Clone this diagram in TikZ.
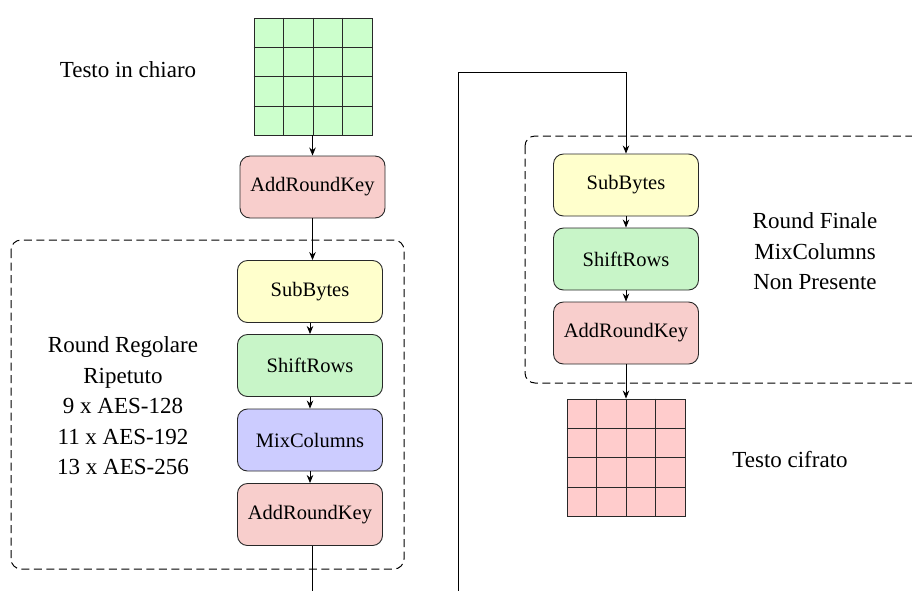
\documentclass[tikz,border=0pt]{standalone}
\usepackage{fontspec}
\setmainfont{Liberation Serif}
\usetikzlibrary{arrows.meta,calc}
\definecolor{gridgreen}{RGB}{204,255,204}
\definecolor{gridred}{RGB}{255,204,204}
\definecolor{arkfill}{RGB}{248,206,204}
\definecolor{sbfill}{RGB}{255,255,204}
\definecolor{srfill}{RGB}{200,245,200}
\definecolor{mcfill}{RGB}{204,204,255}
\definecolor{edge}{RGB}{40,40,40}
\tikzset{
  op/.style={draw=edge, line width=0.9pt, rounded corners=10pt, minimum width=145pt, minimum height=62pt, inner sep=0pt, font=\fontsize{20.5}{24}\selectfont},
  statebox/.style={draw=edge, line width=0.9pt, minimum width=118pt, minimum height=117pt, inner sep=0pt},
  arr/.style={line width=0.9pt, -{Stealth[length=8pt,width=6.5pt]}},
  roundbox/.style={draw=black, line width=1pt, dash pattern=on 8pt off 4.5pt, rounded corners=10pt},
  lbl/.style={align=center, font=\fontsize{23}{30.5}\selectfont},
}
\begin{document}
\begin{tikzpicture}[x=1pt,y=-1pt]
\useasboundingbox (0,0) rectangle (912,590);
\begin{scope}
\clip (0,0) rectangle (912,590);
% dashed round boxes
\draw[roundbox] (11,240) rectangle (404,569);
\draw[roundbox] (525,136) rectangle (940,383);

% plaintext grid
\node[statebox, fill=gridgreen] (pt) at (313,76.5) {};
\foreach \i in {1,2,3} {
  \draw[edge, line width=0.9pt] ($(pt.north west)!\i/4!(pt.north east)$) -- ($(pt.south west)!\i/4!(pt.south east)$);
  \draw[edge, line width=0.9pt] ($(pt.north west)!\i/4!(pt.south west)$) -- ($(pt.north east)!\i/4!(pt.south east)$);
}
\node[lbl] (ptl) at (128,70) {Testo in chiaro};

% initial round
\node[op, fill=arkfill] (ark1) at (312.5,187) {AddRoundKey};

% regular round
\node[op, fill=sbfill] (sb1) at (310,291.5) {SubBytes};
\node[op, fill=srfill] (sr1) at (310,365.5) {ShiftRows};
\node[op, fill=mcfill] (mc1) at (310,440) {MixColumns};
\node[op, fill=arkfill] (ark2) at (310,514.5) {AddRoundKey};
\node[lbl] (rr) at (123,406) {Round Regolare\\Ripetuto\\9 x AES-128\\11 x AES-192\\13 x AES-256};

% final round
\node[op, fill=sbfill] (sb2) at (626,185) {SubBytes};
\node[op, fill=srfill] (sr2) at (626,259) {ShiftRows};
\node[op, fill=arkfill] (ark3) at (626,333) {AddRoundKey};
\node[lbl] (rf) at (815,251.5) {Round Finale\\MixColumns\\Non Presente};

% ciphertext grid
\node[statebox, fill=gridred] (ct) at (626,457.5) {};
\foreach \i in {1,2,3} {
  \draw[edge, line width=0.9pt] ($(ct.north west)!\i/4!(ct.north east)$) -- ($(ct.south west)!\i/4!(ct.south east)$);
  \draw[edge, line width=0.9pt] ($(ct.north west)!\i/4!(ct.south west)$) -- ($(ct.north east)!\i/4!(ct.south east)$);
}
\node[lbl] (ctl) at (790,460) {Testo cifrato};

% connectors
\draw[arr] (pt.south -| ark1) -- (ark1.north);
\draw[arr] (ark1.south) -- (ark1.south |- sb1.north);
\draw[arr] (sb1.south) -- (sr1.north);
\draw[arr] (sr1.south) -- (mc1.north);
\draw[arr] (mc1.south) -- (ark2.north);
\coordinate (b1) at (ark1.south |- 0,620);
\coordinate (b2) at (458,620);
\coordinate (t1) at (458,72);
\coordinate (t2) at (sb2.north |- 0,72);
\draw[arr] (ark1.south |- ark2.south) -- (b1) -- (b2) -- (t1) -- (t2) -- (sb2.north);
\draw[arr] (sb2.south) -- (sr2.north);
\draw[arr] (sr2.south) -- (ark3.north);
\draw[arr] (ark3.south) -- (ct.north);
\end{scope}
\end{tikzpicture}
\end{document}
